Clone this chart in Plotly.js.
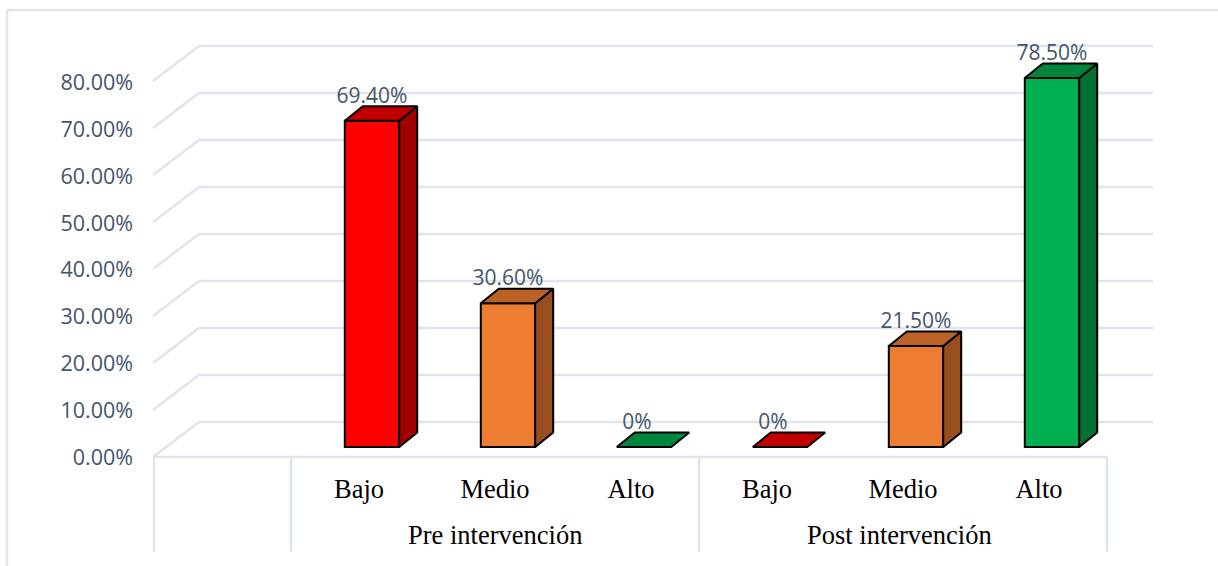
<!DOCTYPE html>
<html><head><meta charset="utf-8">
<script src="https://cdn.plot.ly/plotly-3.0.1.min.js"></script>
<style>html,body{margin:0;padding:0;background:#fff}#c{width:1218px;height:566px}</style>
</head><body><div id="c"></div>
<script>
const categories = ['', 'Bajo', 'Medio', 'Alto', 'Bajo', 'Medio', 'Alto'];
const groups = ['Pre intervención', 'Post intervención'];
const values = [69.4, 30.6, 0, 0, 21.5, 78.5];
const valueLabels = ['69.40%', '30.60%', '0%', '0%', '21.50%', '78.50%'];
const barSlots = [1, 2, 3, 4, 5, 6];
const yTicks = [0, 10, 20, 30, 40, 50, 60, 70, 80];
const yTickLabels = ['0.00%', '10.00%', '20.00%', '30.00%', '40.00%', '50.00%', '60.00%', '70.00%', '80.00%'];
const frontColors = ['#ff0000', '#ed7d31', '#00b050', '#ff0000', '#ed7d31', '#00b050'];
const sideColors = ['#a00000', '#984e1e', '#007033', '#a00000', '#984e1e', '#007033'];
const topColors = ['#c00000', '#bd6226', '#00863c', '#c00000', '#bd6226', '#00863c'];

const W = 1218, H = 566, L = 150, R = 1160, B = 457, T = 20;
const slotPx = 136, yPx = 4.7;
const xMin = -0.5 - 5 / slotPx, xMax = 6.5 + (R - 155 - 7 * slotPx) / slotPx;
const yMax = (B - T) / yPx;
const gridC = '#e0e4ec', textC = '#44546a';
const wallDx = 46 / slotPx, wallDy = 35 / yPx;
const barW = 0.4, barDx = 18 / slotPx, barDy = 14.5 / yPx, barShiftX = 13 / slotPx, barBase = 10 / yPx;
const paperY = px => (B - px) / (B - T);
const paperX = px => (px - L) / (R - L);

const traces = [];
traces.push({type: 'bar', x: barSlots.map(s => s + barShiftX), y: values, base: barBase, width: barW,
  marker: {color: frontColors, line: {color: '#000', width: 2}}, hoverinfo: 'skip', showlegend: false});
values.forEach((v, i) => {
  const x0 = barSlots[i] + barShiftX - barW / 2, x1 = x0 + barW, y0 = barBase, y1 = barBase + v;
  if (v > 0) traces.push({type: 'scatter', mode: 'lines', fill: 'toself', fillcolor: sideColors[i],
    x: [x1, x1 + barDx, x1 + barDx, x1, x1], y: [y1, y1 + barDy, y0 + barDy, y0, y1],
    line: {color: '#000', width: 2}, hoverinfo: 'skip', showlegend: false});
  traces.push({type: 'scatter', mode: 'lines', fill: 'toself', fillcolor: topColors[i],
    x: [x0, x0 + barDx, x1 + barDx, x1, x0], y: [y1, y1 + barDy, y1 + barDy, y1, y1],
    line: {color: '#000', width: 2}, hoverinfo: 'skip', showlegend: false});
});
traces.push({type: 'scatter', mode: 'text',
  x: barSlots.map((s, i) => s + barShiftX - (values[i] === 0 ? 7 / slotPx : 0)),
  y: values.map(v => barBase + v + barDy - 0.4),
  text: valueLabels, textposition: 'top center', textfont: {family: 'Open Sans', size: 21, color: textC},
  hoverinfo: 'skip', showlegend: false, cliponaxis: false});

const line = (xref, yref, x0, y0, x1, y1) => ({type: 'line', layer: 'below', xref, yref, x0, y0, x1, y1, line: {color: gridC, width: 2.5}});
const shapes = [];
shapes.push(line('x', 'paper', -0.5 - 2 / slotPx, 0, 6.5, 0));
yTicks.forEach(t => {
  shapes.push(line('x', 'y', -0.5 - 2 / slotPx, t, -0.5 - 2 / slotPx + wallDx, t + wallDy));
  shapes.push(line('x', 'y', -0.5 - 2 / slotPx + wallDx, t + wallDy, 6.5 + wallDx, t + wallDy));
});
[-0.5 - 1 / slotPx, 0.5, 3.5, 6.5].forEach(d => shapes.push(line('x', 'paper', d, 0, d, paperY(552))));
// outer chart border
shapes.push(line('paper', 'paper', paperX(7), paperY(10), paperX(1218), paperY(10)));
shapes.push(line('paper', 'paper', paperX(7), paperY(10), paperX(7), paperY(566)));

const annotations = [
  {text: groups[0], x: 2, y: paperY(535)}, {text: groups[1], x: 4.975, y: paperY(535)}
].map(a => Object.assign(a, {xref: 'x', yref: 'paper', showarrow: false, yanchor: 'middle',
  font: {family: 'Liberation Serif', size: 26.5, color: '#000'}}));

const layout = {
  width: W, height: H, autosize: false, paper_bgcolor: '#fff', plot_bgcolor: 'rgba(0,0,0,0)',
  margin: {l: L, r: W - R, t: T, b: H - B, pad: 0}, showlegend: false, bargap: 0,
  xaxis: {range: [xMin, xMax], tickmode: 'array', tickvals: [0, 1, 2, 3, 4, 5, 6], ticktext: categories,
    showgrid: false, zeroline: false, showline: false, ticks: '', ticklabelstandoff: 13,
    tickfont: {family: 'Liberation Serif', size: 26.5, color: '#000'}},
  yaxis: {range: [0, yMax], tickmode: 'array', tickvals: yTicks.map(t => t * 0.995), ticktext: yTickLabels,
    showgrid: false, zeroline: false, showline: false, ticks: '', ticklabelstandoff: 16,
    tickfont: {family: 'Open Sans', size: 21.5, color: textC}},
  shapes, annotations
};
Plotly.newPlot('c', traces, layout, {displayModeBar: false, staticPlot: true});
</script></body></html>
